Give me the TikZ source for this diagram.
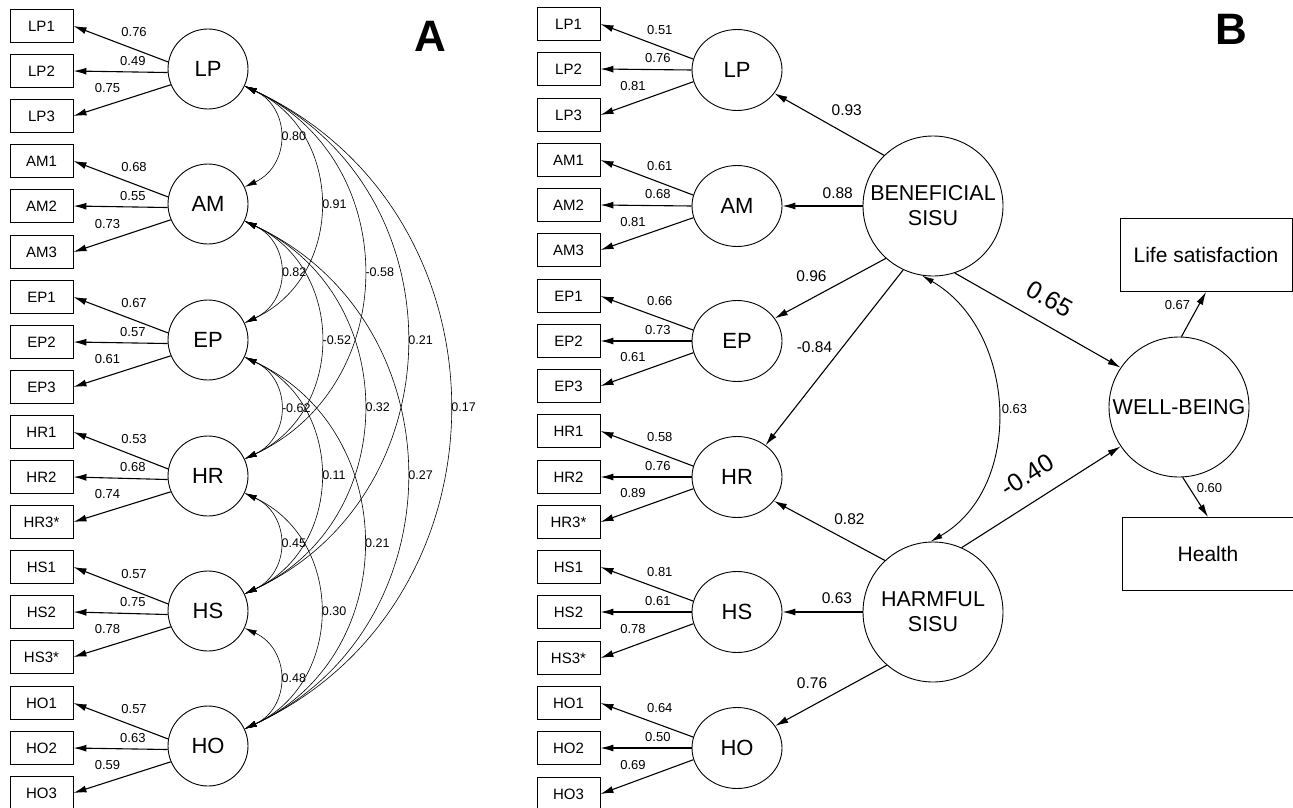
\documentclass[tikz,border=0pt]{standalone}
\usepackage{fontspec}
\setmainfont{Liberation Sans}
\usetikzlibrary{shapes.geometric,arrows.meta}

\begin{document}
\begin{tikzpicture}[x=1pt,y=1pt]
\tikzset{Ob/.style={draw,line width=.9pt,minimum width=63pt,minimum height=33pt,inner sep=0pt,font=\fontsize{15}{18}\selectfont}}
\tikzset{Lt/.style={circle,draw,line width=.9pt,minimum size=80pt,inner sep=0pt,font=\fontsize{22}{26}\selectfont}}
\tikzset{El/.style={ellipse,draw,line width=.9pt,minimum width=90pt,minimum height=81pt,inner sep=0pt,font=\fontsize{22}{26}\selectfont}}
\tikzset{Bg/.style={circle,draw,line width=.9pt,minimum size=140pt,inner sep=0pt,align=center,font=\fontsize{21.5}{25}\selectfont}}
\tikzset{Ou/.style={draw,line width=.9pt,minimum width=172pt,minimum height=73pt,inner sep=0pt,font=\fontsize{21}{25}\selectfont}}
\tikzset{ld/.style={-{Latex[length=13pt,width=7pt]},line width=1.1pt}}
\tikzset{cv/.style={{Latex[length=12pt,width=6pt]}-{Latex[length=12pt,width=6pt]},line width=.6pt}}
\tikzset{nm/.style={font=\fontsize{13}{15}\selectfont,inner sep=0pt}}
\tikzset{lo1/.style={nm,pos=.36,above=11.5pt},lo2/.style={nm,pos=.37,above=6pt},lo3/.style={nm,pos=.65,above=12pt}}
\tikzset{ac/.style={font=\fontsize{12.5}{15}\selectfont,inner sep=0pt,right=2pt}}
\tikzset{nb/.style={font=\fontsize{15.5}{18}\selectfont,inner sep=0pt}}
\tikzset{big/.style={font=\fontsize{25}{30}\selectfont,inner sep=0pt,sloped}}
\tikzset{pl/.style={font=\fontsize{44}{50}\selectfont\bfseries,inner sep=0pt}}

  \useasboundingbox (0,0) rectangle (1293,-808);

  % panel A
  \node[pl] (pa) at (430,-36) {A};

  \node[Ob] (lp1) at (41.5,-26)  {LP1};
  \node[Ob] (lp2) at (41.5,-71)  {LP2};
  \node[Ob] (lp3) at (41.5,-116) {LP3};
  \node[Ob] (am1) at (41.5,-161) {AM1};
  \node[Ob] (am2) at (41.5,-206) {AM2};
  \node[Ob] (am3) at (41.5,-252) {AM3};
  \node[Ob] (ep1) at (41.5,-297) {EP1};
  \node[Ob] (ep2) at (41.5,-342) {EP2};
  \node[Ob] (ep3) at (41.5,-387) {EP3};
  \node[Ob] (hr1) at (41.5,-432) {HR1};
  \node[Ob] (hr2) at (41.5,-477) {HR2};
  \node[Ob] (hr3) at (41.5,-522) {HR3*};
  \node[Ob] (hs1) at (41.5,-567) {HS1};
  \node[Ob] (hs2) at (41.5,-612) {HS2};
  \node[Ob] (hs3) at (41.5,-657) {HS3*};
  \node[Ob] (ho1) at (41.5,-703) {HO1};
  \node[Ob] (ho2) at (41.5,-748) {HO2};
  \node[Ob] (ho3) at (41.5,-793) {HO3};

  \node[Lt] (lp) at (208,-69)  {LP};
  \node[Lt] (am) at (208,-204) {AM};
  \node[Lt] (ep) at (208,-340) {EP};
  \node[Lt] (hr) at (208,-476) {HR};
  \node[Lt] (hs) at (208,-611) {HS};
  \node[Lt] (ho) at (208,-746) {HO};

  \draw[ld] (lp.170) -- node[lo1] {0.76} (lp1.east);
  \draw[ld] (lp.185) -- node[lo2] {0.49} (lp2.east);
  \draw[ld] (lp.203) -- node[lo3] {0.75} (lp3.east);
  \draw[ld] (am.170) -- node[lo1] {0.68} (am1.east);
  \draw[ld] (am.185) -- node[lo2] {0.55} (am2.east);
  \draw[ld] (am.203) -- node[lo3] {0.73} (am3.east);
  \draw[ld] (ep.170) -- node[lo1] {0.67} (ep1.east);
  \draw[ld] (ep.185) -- node[lo2] {0.57} (ep2.east);
  \draw[ld] (ep.203) -- node[lo3] {0.61} (ep3.east);
  \draw[ld] (hr.170) -- node[lo1] {0.53} (hr1.east);
  \draw[ld] (hr.185) -- node[lo2] {0.68} (hr2.east);
  \draw[ld] (hr.203) -- node[lo3] {0.74} (hr3.east);
  \draw[ld] (hs.170) -- node[lo1] {0.57} (hs1.east);
  \draw[ld] (hs.185) -- node[lo2] {0.75} (hs2.east);
  \draw[ld] (hs.203) -- node[lo3] {0.78} (hs3.east);
  \draw[ld] (ho.170) -- node[lo1] {0.57} (ho1.east);
  \draw[ld] (ho.185) -- node[lo2] {0.63} (ho2.east);
  \draw[ld] (ho.203) -- node[lo3] {0.59} (ho3.east);

  % correlations
  \draw[cv] (lp.-25) to[out=-25,in=25,looseness=1.3] node[ac] {0.80} (am.25);
  \draw[cv] (lp.-25) to[out=-25,in=25,looseness=1.2] node[ac] {0.91} (ep.25);
  \draw[cv] (lp.-25) to[out=-25,in=25,looseness=1.2] node[ac] {-0.58} (hr.25);
  \draw[cv] (lp.-25) to[out=-25,in=25,looseness=1.2] node[ac] {0.21} (hs.25);
  \draw[cv] (lp.-25) to[out=-25,in=25,looseness=1.2] node[ac] {0.17} (ho.25);
  \draw[cv] (am.-25) to[out=-25,in=25,looseness=1.3] node[ac] {0.82} (ep.25);
  \draw[cv] (am.-25) to[out=-25,in=25,looseness=1.2] node[ac] {-0.52} (hr.25);
  \draw[cv] (am.-25) to[out=-25,in=25,looseness=1.2] node[ac] {0.32} (hs.25);
  \draw[cv] (am.-25) to[out=-25,in=25,looseness=1.2] node[ac] {0.27} (ho.25);
  \draw[cv] (ep.-25) to[out=-25,in=25,looseness=1.3] node[ac] {-0.62} (hr.25);
  \draw[cv] (ep.-25) to[out=-25,in=25,looseness=1.2] node[ac] {0.11} (hs.25);
  \draw[cv] (ep.-25) to[out=-25,in=25,looseness=1.2] node[ac] {0.21} (ho.25);
  \draw[cv] (hr.-25) to[out=-25,in=25,looseness=1.3] node[ac] {0.45} (hs.25);
  \draw[cv] (hr.-25) to[out=-25,in=25,looseness=1.2] node[ac] {0.30} (ho.25);
  \draw[cv] (hs.-25) to[out=-25,in=25,looseness=1.3] node[ac] {0.48} (ho.25);

  % panel B
  \node[pl] (pb) at (1231,-29) {B};

  \node[Ob] (blp1) at (568.5,-24)  {LP1};
  \node[Ob] (blp2) at (568.5,-69)  {LP2};
  \node[Ob] (blp3) at (568.5,-115) {LP3};
  \node[Ob] (bam1) at (568.5,-160) {AM1};
  \node[Ob] (bam2) at (568.5,-205) {AM2};
  \node[Ob] (bam3) at (568.5,-250) {AM3};
  \node[Ob] (bep1) at (568.5,-296) {EP1};
  \node[Ob] (bep2) at (568.5,-341) {EP2};
  \node[Ob] (bep3) at (568.5,-386) {EP3};
  \node[Ob] (bhr1) at (568.5,-431) {HR1};
  \node[Ob] (bhr2) at (568.5,-477) {HR2};
  \node[Ob] (bhr3) at (568.5,-522) {HR3*};
  \node[Ob] (bhs1) at (568.5,-567) {HS1};
  \node[Ob] (bhs2) at (568.5,-612) {HS2};
  \node[Ob] (bhs3) at (568.5,-658) {HS3*};
  \node[Ob] (bho1) at (568.5,-703) {HO1};
  \node[Ob] (bho2) at (568.5,-748) {HO2};
  \node[Ob] (bho3) at (568.5,-794) {HO3};

  \node[El] (blp) at (737,-70)  {LP};
  \node[El] (bam) at (737,-206) {AM};
  \node[El] (bep) at (737,-341) {EP};
  \node[El] (bhr) at (737,-477) {HR};
  \node[El] (bhs) at (737,-612) {HS};
  \node[El] (bho) at (737,-748) {HO};

  \draw[ld] (blp.166) -- node[lo1] {0.51} (blp1.east);
  \draw[ld] (blp.180) -- node[lo2] {0.76} (blp2.east);
  \draw[ld] (blp.195) -- node[lo3] {0.81} (blp3.east);
  \draw[ld] (bam.166) -- node[lo1] {0.61} (bam1.east);
  \draw[ld] (bam.180) -- node[lo2] {0.68} (bam2.east);
  \draw[ld] (bam.195) -- node[lo3] {0.81} (bam3.east);
  \draw[ld] (bep.166) -- node[lo1] {0.66} (bep1.east);
  \draw[ld] (bep.180) -- node[lo2] {0.73} (bep2.east);
  \draw[ld] (bep.195) -- node[lo3] {0.61} (bep3.east);
  \draw[ld] (bhr.166) -- node[lo1] {0.58} (bhr1.east);
  \draw[ld] (bhr.180) -- node[lo2] {0.76} (bhr2.east);
  \draw[ld] (bhr.195) -- node[lo3] {0.89} (bhr3.east);
  \draw[ld] (bhs.166) -- node[lo1] {0.81} (bhs1.east);
  \draw[ld] (bhs.180) -- node[lo2] {0.61} (bhs2.east);
  \draw[ld] (bhs.195) -- node[lo3] {0.78} (bhs3.east);
  \draw[ld] (bho.166) -- node[lo1] {0.64} (bho1.east);
  \draw[ld] (bho.180) -- node[lo2] {0.50} (bho2.east);
  \draw[ld] (bho.195) -- node[lo3] {0.69} (bho3.east);

  \node[Bg] (ben)  at (933,-206) {BENEFICIAL\\SISU};
  \node[Bg] (harm) at (933,-612) {HARMFUL\\SISU};
  \node[Bg] (wb)   at (1179,-407) {WELL-BEING};
  \node[Ou] (life)   at (1206,-255) {Life satisfaction};
  \node[Ou] (health) at (1208,-554) {Health};

  \draw[ld] (ben.134) -- node[nb,pos=.34,above=18pt] {0.93} (blp.-32);
  \draw[ld] (ben.180) -- node[nb,pos=.31,above=6.5pt] {0.88} (bam.east);
  \draw[ld] (ben.228) -- node[nb,pos=.67,above=16.5pt] {0.96} (bep.31);
  \draw[ld] (ben.245) -- node[nb,pos=.44,left=10pt] {-0.84} (bhr.48);
  \draw[ld] (harm.133) -- node[nb,pos=.32,above=16.5pt] {0.82} (bhr.-33);
  \draw[ld] (harm.180) -- node[nb,pos=.32,above=7.5pt] {0.63} (bhs.east);
  \draw[ld] (harm.229) -- node[nb,pos=.67,above=17pt] {0.76} (bho.30);

  \draw[cv,line width=.9pt] (ben.-99) to[out=-30,in=30,looseness=1.05] node[nm,right=4pt] {0.63} (harm.92);

  \draw[ld] (ben.-72) -- node[big,pos=.5,above=15pt] {0.65} (wb.146);
  \draw[ld] (harm.66) -- node[big,pos=.5,above=16.5pt] {-0.40} (wb.214);
  \draw[ld] (wb.88) -- node[nm,pos=.7,left=8pt] {0.67} (life.south);
  \draw[ld] (wb.-87) -- node[nm,pos=.26,right=7pt] {0.60} (health.north);
\end{tikzpicture}
\end{document}
